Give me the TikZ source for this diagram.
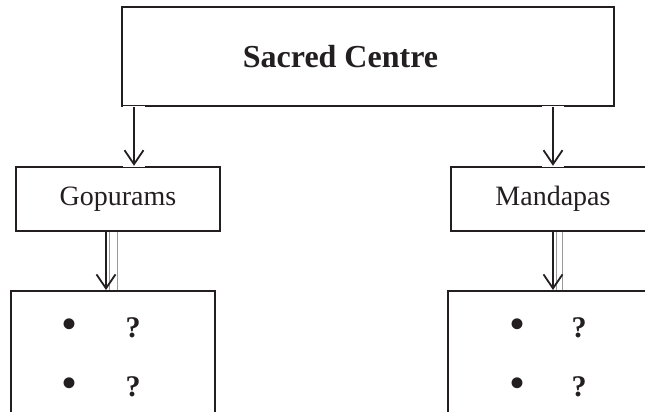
\documentclass[tikz,border=0pt]{standalone}
\usepackage{fontspec}
\setmainfont{Liberation Serif}
\usepackage{xcolor}
\usetikzlibrary{arrows.meta,positioning,calc}
\definecolor{inkdark}{HTML}{231F20}
\definecolor{ghostgray}{HTML}{9A9A9A}

\begin{document}
\begin{tikzpicture}[x=1pt, y=-1pt,
  topbox/.style={
    rectangle, draw=inkdark, line width=2.4pt, fill=white,
    minimum width=492pt, minimum height=99pt,
    font=\fontsize{32}{36}\selectfont\bfseries, text=inkdark
  },
  midbox/.style={
    rectangle, draw=inkdark, line width=2.4pt, fill=white,
    minimum width=204pt, minimum height=64pt,
    font=\fontsize{28}{32}\selectfont, text=inkdark
  },
  listbox/.style={
    rectangle, draw=inkdark, line width=2.4pt, fill=white,
    minimum width=204pt, minimum height=160pt, anchor=north
  },
  item/.style={font=\fontsize{30}{34}\selectfont\bfseries, text=inkdark},
  dot/.style={font=\fontsize{40}{44}\selectfont\bfseries, text=inkdark},
  downarr/.style={-{Straight Barb[length=14pt,width=19pt,line width=1.8pt]},
    line width=1.8pt, inkdark},
  arr/.style={downarr,
    preaction={draw=white, line width=22pt, -, shorten <=-1.5pt, shorten >=-1.5pt}},
  ghost/.style={line width=0.6pt, ghostgray}
]
\useasboundingbox (0,0) rectangle (645,412);
\clip (0,0) rectangle (645,412);

%=== BOXES ===
\node[topbox] (sacred) at (368,56.5) {\hspace*{-55pt}Sacred Centre};
\node[midbox] (gopurams) at (118,199) {Gopurams};
\node[midbox] (mandapas) at (553,199) {Mandapas};
\node[listbox] (glist) at (113,290) {};
\node[listbox] (mlist) at (550,290) {};

%=== LIST ITEMS ===
\node[dot]  (g1b) at (70,328) {\textbullet};
\node[item] (g1q) at (133,328) {?};
\node[dot]  (g2b) at (70,387) {\textbullet};
\node[item] (g2q) at (133,387) {?};
\node[dot]  (m1b) at (517,328) {\textbullet};
\node[item] (m1q) at (579,328) {?};
\node[dot]  (m2b) at (517,387) {\textbullet};
\node[item] (m2q) at (579,387) {?};

%=== ARROWS ===
\draw[arr] ([xshift=16pt]gopurams.north |- sacred.south) -- ([xshift=16pt]gopurams.north);
\draw[arr] (mandapas.north |- sacred.south) -- (mandapas.north);

% down arrows with the faint double rule beside them
\draw[ghost] ([xshift=-9pt]gopurams.south) -- ([xshift=-9pt]gopurams.south |- glist.north);
\draw[ghost] ([xshift=-1pt]gopurams.south) -- ([xshift=-1pt]gopurams.south |- glist.north);
\draw[ghost] ([xshift=3pt]mandapas.south) -- ([xshift=3pt]mandapas.south |- mlist.north);
\draw[ghost] ([xshift=9pt]mandapas.south) -- ([xshift=9pt]mandapas.south |- mlist.north);
\draw[downarr] ([xshift=-12pt]gopurams.south) -- ([xshift=-12pt]gopurams.south |- glist.north);
\draw[downarr] (mandapas.south) -- (mandapas.south |- mlist.north);

\end{tikzpicture}
\end{document}
